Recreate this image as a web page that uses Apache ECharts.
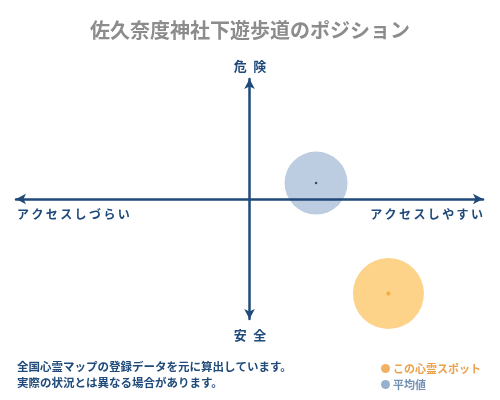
<!DOCTYPE html>
<html lang="ja">
<head>
    <meta charset="UTF-8">
    <title>佐久奈度神社下遊歩道のポジション</title>
    <script src="https://cdn.jsdelivr.net/npm/echarts@6.0.0/dist/echarts.min.js"></script>
    <style>
        * { margin: 0; padding: 0; }
        body { background: #fff; }
        #chart { width: 500px; height: 400px; }
    </style>
</head>
<body>
    <div id="chart"></div>
    <script>
        // データ（アクセス度, 危険度）
        const seriesNames = ['この心霊スポット', '平均値'];
        const spotPoint = [59.5, -78.8];
        const averagePoint = [28.5, 13.3];
        const axisLabels = ['アクセスしづらい', 'アクセスしやすい', '危険', '安全'];
        const footNotes = ['全国心霊マップの登録データを元に算出しています。', '実際の状況とは異なる場合があります。'];

        const font = '"Noto Sans CJK JP", sans-serif';
        const navy = '#1f4a7a';

        // 字間をあける
        function spaced(s, gap) {
            return s.split('').join(gap);
        }

        const chart = echarts.init(document.getElementById('chart'));
        const axisCommon = {
            type: 'value',
            min: -100,
            max: 100,
            z: 10,
            axisLine: {
                onZero: true,
                symbol: ['arrow', 'arrow'],
                symbolSize: [8, 10],
                lineStyle: { color: navy, width: 2.5 }
            },
            axisTick: { show: false },
            axisLabel: { show: false },
            splitLine: { show: false }
        };

        chart.setOption({
            animation: false,
            title: {
                text: '佐久奈度神社下遊歩道のポジション',
                left: 'center',
                top: 15,
                textStyle: { fontFamily: font, fontSize: 20, fontWeight: 'bold', color: '#8c8c8c' }
            },
            grid: { left: 16, right: 17, top: 79, bottom: 81 },
            xAxis: axisCommon,
            yAxis: axisCommon,
            legend: {
                orient: 'vertical',
                left: 376,
                top: 358,
                itemGap: 5,
                itemWidth: 9,
                itemHeight: 9,
                icon: 'circle',
                selectedMode: false,
                textStyle: { fontFamily: font, fontSize: 11, fontWeight: 'bold', padding: [0, 0, 0, -2] },
                data: [
                    { name: seriesNames[0], itemStyle: { color: '#ef9c3c' }, textStyle: { color: '#eba04c' } },
                    { name: seriesNames[1], itemStyle: { color: '#7d9cc0' }, textStyle: { color: '#7391b3' } }
                ]
            },
            series: [
                {
                    name: seriesNames[0],
                    type: 'scatter',
                    symbolSize: 71,
                    itemStyle: { color: '#fcc76c' },
                    data: [spotPoint]
                },
                {
                    name: seriesNames[0],
                    type: 'scatter',
                    symbol: 'diamond',
                    symbolSize: 5,
                    itemStyle: { color: '#f0a030' },
                    data: [spotPoint]
                },
                {
                    name: seriesNames[1],
                    type: 'scatter',
                    symbolSize: 63,
                    itemStyle: { color: '#abc0da' },
                    data: [averagePoint]
                },
                {
                    name: seriesNames[1],
                    type: 'scatter',
                    symbolSize: 2.5,
                    itemStyle: { color: '#1a2a40' },
                    data: [averagePoint]
                }
            ],
            graphic: [
                { type: 'text', left: 17, top: 208, style: { text: spaced(axisLabels[0], '\u2009'), font: 'bold 12px ' + font, fill: navy } },
                { type: 'text', right: 17, top: 208, style: { text: spaced(axisLabels[1], '\u2009'), font: 'bold 12px ' + font, fill: navy } },
                { type: 'text', left: 'center', top: 60, style: { text: spaced(axisLabels[2], '\u2002'), font: 'bold 13px ' + font, fill: navy } },
                { type: 'text', left: 'center', top: 329, style: { text: spaced(axisLabels[3], '\u2002'), font: 'bold 13px ' + font, fill: navy } },
                { type: 'text', left: 17, top: 361, style: { text: footNotes[0], font: 'bold 11.5px ' + font, fill: navy } },
                { type: 'text', left: 17, top: 377, style: { text: footNotes[1], font: 'bold 11.5px ' + font, fill: navy } }
            ]
        });
    </script>
</body>
</html>
